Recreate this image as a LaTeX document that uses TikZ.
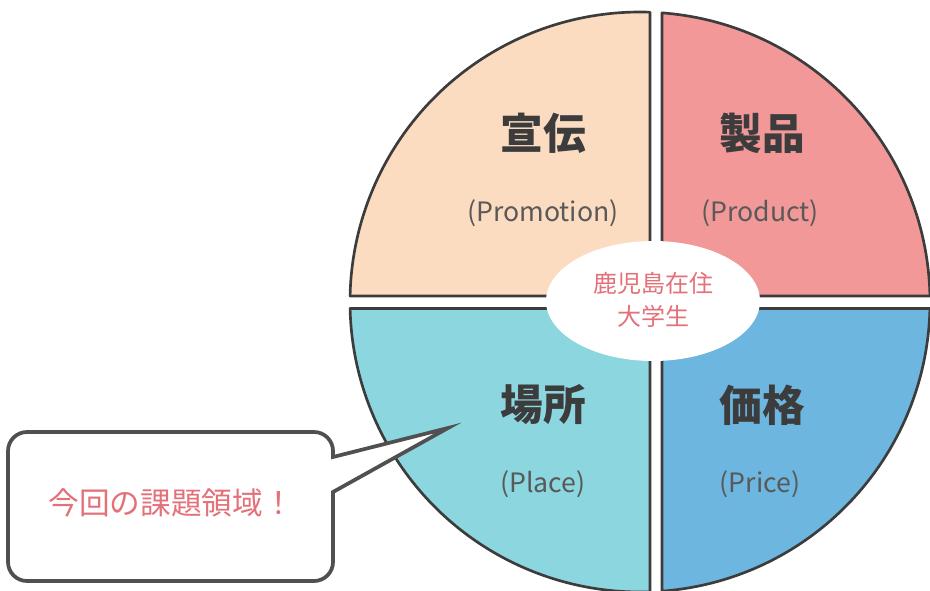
\documentclass[tikz,border=0pt]{standalone}
\usepackage{fontspec}
\usepackage{xcolor}
\usetikzlibrary{calc, positioning}
\newfontfamily\jp{Noto Sans CJK JP}

\definecolor{peach}{RGB}{252,220,193}
\definecolor{rose}{RGB}{242,152,152}
\definecolor{aqua}{RGB}{140,214,224}
\definecolor{sky}{RGB}{108,182,224}
\definecolor{rim}{RGB}{60,60,60}
\definecolor{pinktext}{RGB}{228,112,122}

\begin{document}
\begin{tikzpicture}[
            x=0.75pt, y=0.75pt,
            quad/.style={draw=rim, line width=2pt, line join=round},
            callout/.style={draw=rim!90, fill=white, line width=2.8pt, line join=miter},
            bigword/.style={font=\jp\bfseries\fontsize{32pt}{36pt}\selectfont, text=rim},
            subword/.style={font=\jp\fontsize{20pt}{24pt}\selectfont, text=rim!85},
        ]
            \useasboundingbox (0,0) rectangle (930,590);
            \clip (0,0) rectangle (930,590);
            \fill[white] (0,0) rectangle (930,590);
            \coordinate (C) at (640,288);

            % four quadrants of the mix
            \filldraw[quad, fill=peach] (650,294) -- ($(C)+({acos(10/290)}:290)$)
                arc[start angle={acos(10/290)}, end angle={180-asin(6/290)}, radius=290] -- cycle;
            \filldraw[quad, fill=rose] (662,294) -- ($(C)+({asin(6/290)}:290)$)
                arc[start angle={asin(6/290)}, end angle={acos(22/290)}, radius=290] -- cycle;
            \filldraw[quad, fill=aqua] (650,281.5) -- ($(C)+({180+asin(6.5/290)}:290)$)
                arc[start angle={180+asin(6.5/290)}, end angle={360-acos(10/290)}, radius=290] -- cycle;
            \filldraw[quad, fill=sky] (662,281.5) -- ($(C)+({-acos(22/290)}:290)$)
                arc[start angle={-acos(22/290)}, end angle={-asin(6.5/290)}, radius=290] -- cycle;

            % target in the middle
            \fill[white] (653,289) ellipse [x radius=107, y radius=60];
            \node[font=\jp\fontsize{18pt}{24.75pt}\selectfont, text=pinktext, align=center]
                (target) at (653,290) {鹿児島在住\\大学生};

            \node[bigword] (promo) at (543,457) {宣伝};
            \node[bigword] (prod) at (762,457) {製品};
            \node[bigword] (place) at (543,185) {場所};
            \node[bigword] (price) at (762,185) {価格};
            \node[subword] (promoen) at (543,377) {(Promotion)};
            \node[subword] (proden) at (760,377) {(Product)};
            \node[subword] (placeen) at (543,106) {(Place)};
            \node[subword] (priceen) at (760,106) {(Price)};

            % speech bubble pointing at place
            \coordinate (tip) at (448,162);
            \filldraw[callout] (27,158) -- (314,158)
                arc[start angle=90, end angle=0, radius=19] -- (333,133) -- (tip) -- (333,98)
                -- (333,28) arc[start angle=0, end angle=-90, radius=19] -- (27,9)
                arc[start angle=270, end angle=180, radius=19] -- (8,139)
                arc[start angle=180, end angle=90, radius=19] -- cycle;
            \node[font=\jp\fontsize{23pt}{26pt}\selectfont, text=pinktext]
                (task) at (171,87) {今回の課題領域！};
        \end{tikzpicture}
\end{document}
